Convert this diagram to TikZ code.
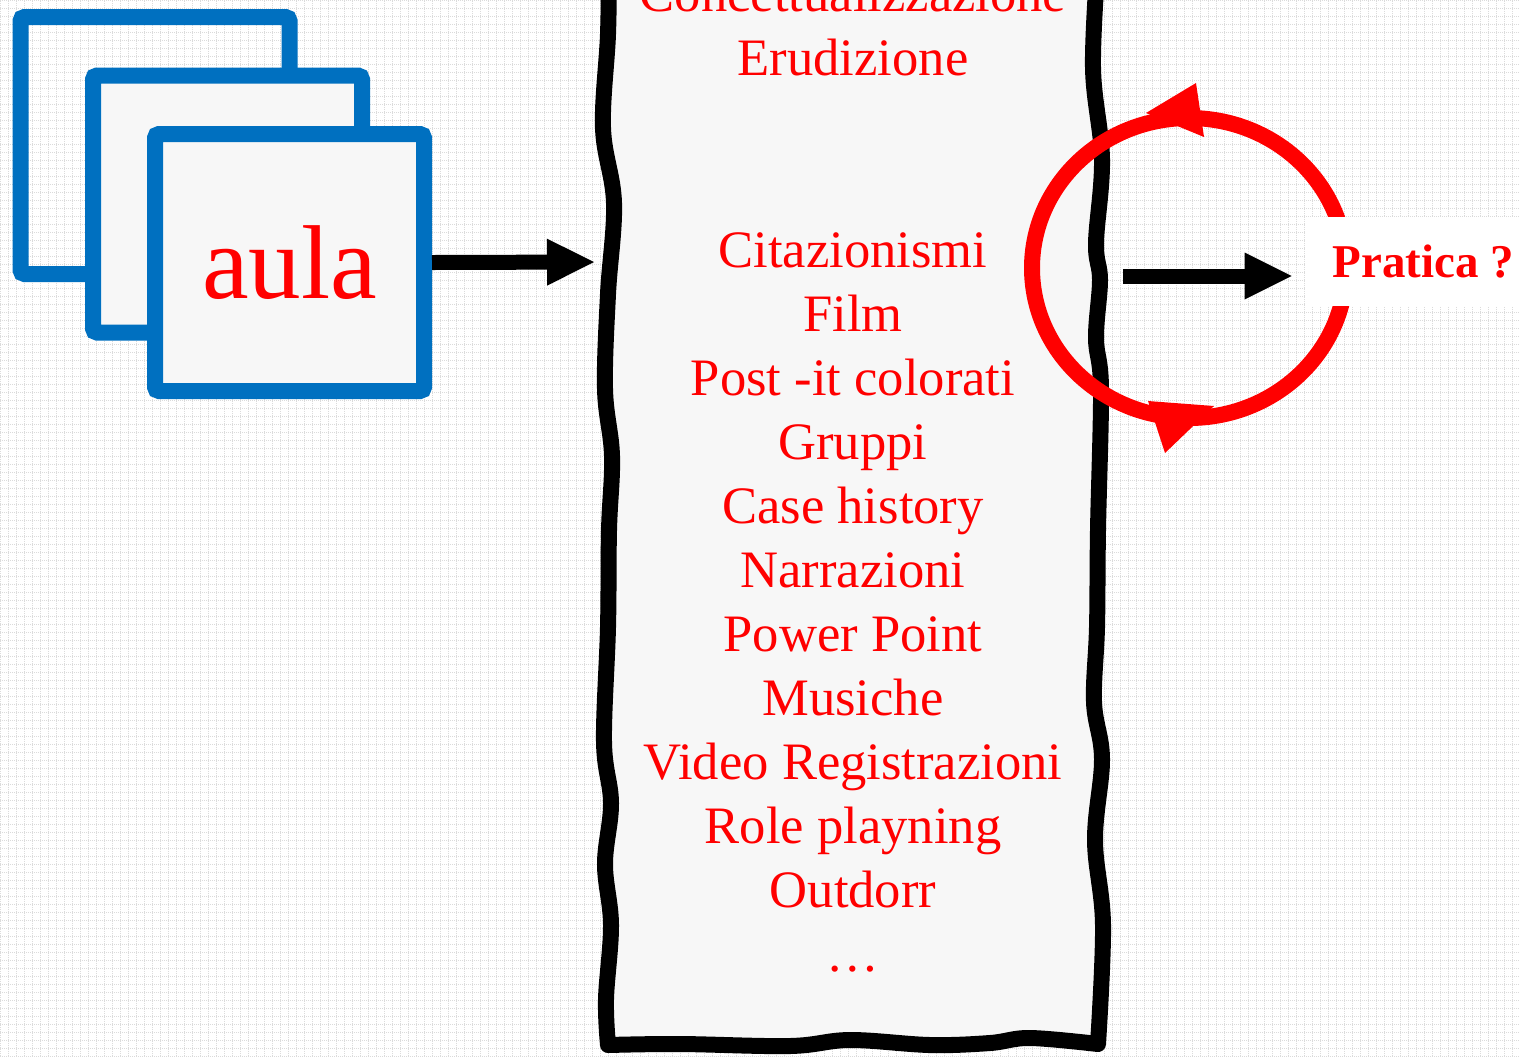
\documentclass[tikz,border=0pt]{standalone}
\usepackage{fontspec}
\setmainfont{Liberation Serif}
\usetikzlibrary{arrows.meta}
\definecolor{slideblue}{HTML}{0070C0}
\definecolor{slidered}{HTML}{FF0000}
\definecolor{paper}{HTML}{F7F7F7}
\begin{document}
\begin{tikzpicture}[x=0.5pt,y=-0.5pt,
  gridline/.style={draw=black!14, line width=0.5pt, dash pattern=on 0.5pt off 0.5pt},
  card/.style={draw=slideblue, line width=8pt, rounded corners=2pt,
    minimum width=134.5pt, minimum height=128.5pt, inner sep=0pt},
  item/.style={text=slidered, font=\fontsize{26.3pt}{32pt}\selectfont, anchor=base, inner sep=0pt},
  bigarrow/.style={draw=black, line width=7.5pt,
    -{Triangle[length=23.5pt,width=23.5pt,line width=0pt]}},
  wavy/.style={draw=black, fill=paper, line width=8pt, line join=round},
  loopline/.style={draw=slidered, line width=8pt},
  answer/.style={fill=white, text=slidered, inner sep=0pt,
    minimum width=118.5pt, minimum height=44.5pt,
    font=\fontsize{23.5pt}{28pt}\selectfont\bfseries}]

\useasboundingbox (0,0) rectangle (1519,1056);
\clip (0,0) rectangle (1519,1056);

% faint squared paper
\fill[white] (0,0) rectangle (1519,1056);
\draw[gridline] (0pt,-528pt) grid[step=4pt] (759.5pt,0pt);

% stack of classroom cards
\node[card] (back) at (155,145.5) {};
\node[card, fill=paper] (middle) at (227.5,204) {};
\node[card, fill=paper, text=slidered, font=\fontsize{52.5pt}{60pt}\selectfont]
  (front) at (289.5,262.5) {aula};

% hand-drawn list sheet
\draw[wavy]
  plot[smooth, tension=0.6] coordinates {(609,-40) (608,34) (603,128) (614,203) (608,294)
      (605,389) (612,456) (609,530) (608,627) (604,742) (611,803) (605,864) (611,925)
      (606,999) (608,1045)}
  -- plot[smooth, tension=0.6] coordinates {(608,1045) (680,1044) (790,1046) (850,1040)
      (930,1045) (990,1043) (1030,1038) (1098,1044)}
  -- plot[smooth, tension=0.6] coordinates {(1098,1044) (1103,925) (1095,840) (1102,759)
      (1094,702) (1097,627) (1098,530) (1101,389) (1096,338) (1100,280) (1096,243)
      (1102,159) (1093,68) (1098,-40)}
  -- cycle;

\foreach \n/\t in {0/Concettualizzazione, 1/Erudizione, 4/Citazionismi, 5/Film,
    6/Post -it colorati, 7/Gruppi, 8/Case history, 9/Narrazioni, 10/Power Point,
    11/Musiche, 12/Video Registrazioni, 13/Role playning, 14/Outdorr, 15/…}
  \node[item] (line\n) at (853,{11+64*\n}) {\t};

% entry and exit points on the sheet
\coordinate (sheetin) at (594,262);
\coordinate (sheetout) at (1123,276);

\draw[bigarrow] (front.east) -- (sheetin);

% feedback loop
\draw[loopline] (1189,268) ellipse [x radius=157, y radius=150];
\fill[slidered] (1196,83) -- (1204,137) -- (1146,113) -- cycle;
\fill[slidered] (1148,401) -- (1165,453) -- (1214,406) -- cycle;

\node[answer] (pratica) at (1423.5,261.5) {Pratica ?};

\draw[bigarrow, shorten >=6.5pt] (sheetout) -- (sheetout -| pratica.west);

\end{tikzpicture}
\end{document}
